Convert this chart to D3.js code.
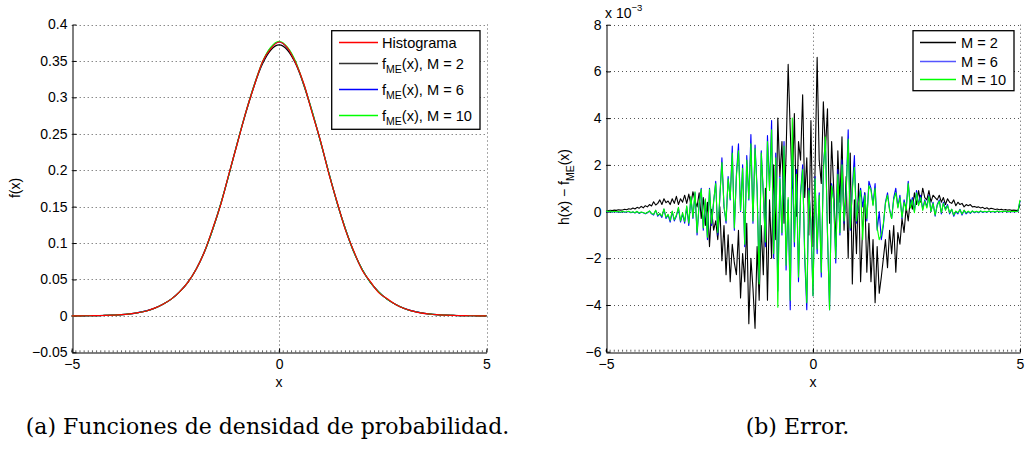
<!DOCTYPE html>
<html>
<head>
<meta charset="utf-8">
<script src="https://cdn.jsdelivr.net/npm/d3@7"></script>
<style>
  body { margin: 0; background: #fff; }
  svg { display: block; }
</style>
</head>
<body>
<script>
//
// Two MATLAB style panels: (a) densities, (b) error h(x) - f_ME(x)
//

// ---- data, panel (a) : x from -5 to 5, step 0.2
const densStep = 0.2;
const densHist = [0.0001,0.0001,0.0002,0.0003,0.0006,0.001,0.0016,0.0027,0.0044,0.0067,
  0.0106,0.016,0.023,0.033,0.046,0.064,0.088,0.120,0.154,0.197,
  0.238,0.280,0.316,0.349,0.367,0.376,0.368,0.347,0.318,0.278,
  0.240,0.195,0.156,0.118,0.089,0.063,0.047,0.032,0.024,0.016,
  0.0104,0.0069,0.0042,0.0028,0.0016,0.001,0.0006,0.0003,0.0002,0.0001,0.0001];
const densM2 = [0.0001,0.0001,0.0002,0.0004,0.0006,0.0011,0.0017,0.0028,0.0045,0.0069,
  0.0107,0.016,0.023,0.033,0.046,0.064,0.088,0.119,0.155,0.196,
  0.239,0.279,0.316,0.346,0.365,0.372,0.365,0.346,0.316,0.279,
  0.239,0.196,0.155,0.119,0.088,0.064,0.046,0.033,0.023,0.016,
  0.0107,0.0069,0.0045,0.0028,0.0017,0.0011,0.0006,0.0004,0.0002,0.0001,0.0001];
const densM6 = [0.0001,0.0001,0.0002,0.0003,0.0006,0.001,0.0016,0.0027,0.0044,0.0068,
  0.0105,0.016,0.023,0.033,0.046,0.064,0.088,0.119,0.155,0.196,
  0.239,0.280,0.317,0.348,0.368,0.376,0.368,0.348,0.317,0.280,
  0.239,0.196,0.155,0.119,0.088,0.064,0.046,0.033,0.023,0.016,
  0.0105,0.0068,0.0044,0.0027,0.0016,0.001,0.0006,0.0003,0.0002,0.0001,0.0001];
const densM10 = [0.0001,0.0001,0.0002,0.0003,0.0006,0.001,0.0016,0.0027,0.0043,0.0067,
  0.0105,0.016,0.023,0.033,0.046,0.064,0.088,0.119,0.155,0.196,
  0.239,0.280,0.317,0.349,0.369,0.377,0.369,0.349,0.317,0.280,
  0.239,0.196,0.155,0.119,0.088,0.064,0.046,0.033,0.023,0.016,
  0.0105,0.0067,0.0043,0.0027,0.0016,0.001,0.0006,0.0003,0.0002,0.0001,0.0001];

// ---- data, panel (b) : x from -5 to 5, step 0.05, values in units of 1e-3
const errStep = 0.05;
const errM2 = [
  0.02,0.03,0.05,0.04,0.06,0.05,0.08,0.06,0.07,0.10,
  0.08,0.12,0.10,0.15,0.11,0.18,0.14,0.22,0.16,0.25,
  0.20,0.30,0.24,0.42,0.28,0.35,0.50,0.30,0.55,0.38,
  0.45,0.30,0.55,0.35,0.65,0.30,0.55,0.40,0.70,0.35,
  0.75,0.30,0.85,0.45,0.20,0.80,-0.30,0.60,-0.60,0.40,
  -1.50,0.10,-0.80,-0.40,-1.20,0.20,-2.10,-0.60,-2.70,-1.00,
  -3.00,-1.40,-2.20,-2.70,-0.80,-3.70,-1.80,-3.00,-0.50,-4.80,
  -2.00,-3.30,-5.00,-1.50,-3.80,-0.60,-2.70,1.00,-3.80,0.50,
  -2.00,2.00,-1.20,4.00,1.50,3.00,-0.50,2.50,6.30,3.50,
  1.00,4.20,-0.20,3.00,2.20,5.00,0.60,2.30,-1.00,3.90,
  -1.50,1.80,6.60,2.20,1.20,4.70,2.60,4.40,-0.50,3.00,
  1.00,-1.50,2.60,0.40,3.20,-0.80,1.50,-2.00,2.50,-3.10,
  0.50,-1.80,1.20,-3.00,-0.60,0.80,-2.60,-0.50,-3.00,-1.20,
  -3.90,-1.50,-3.50,-2.80,-2.00,-1.20,-2.40,-0.80,-1.80,-0.60,
  -2.60,-0.90,-1.40,-0.30,-0.90,0.20,-0.40,0.50,0.10,0.80,
  0.30,0.90,0.40,1.00,0.60,0.50,0.90,0.40,0.70,0.60,
  0.50,0.70,0.40,0.60,0.30,0.55,0.40,0.35,0.50,0.25,
  0.40,0.30,0.35,0.20,0.30,0.25,0.30,0.20,0.22,0.18,
  0.20,0.15,0.18,0.12,0.16,0.10,0.14,0.12,0.09,0.11,
  0.08,0.10,0.07,0.09,0.06,0.08,0.05,0.06,0.05,0.04,
  0.30];
const errM6 = [
  0.00,-0.02,0.01,-0.03,0.00,-0.02,-0.01,-0.04,0.00,-0.03,
  -0.02,0.00,-0.05,-0.02,-0.06,0.00,-0.08,-0.03,-0.05,-0.10,
  -0.05,0.02,-0.10,-0.15,0.05,-0.20,-0.10,-0.25,0.10,-0.30,
  -0.15,-0.45,0.00,-0.40,-0.20,0.15,-0.45,-0.10,-0.50,0.20,
  -0.60,0.60,-0.30,0.80,-1.00,0.30,1.00,-0.80,0.50,-1.20,
  1.00,-0.60,0.40,1.30,-1.00,0.60,2.30,0.20,-0.50,1.50,
  0.50,2.80,-0.80,1.60,2.90,0.00,2.00,-1.50,2.40,0.50,
  3.30,-0.50,2.85,1.00,-3.00,2.60,0.80,-1.50,3.25,1.00,
  3.90,-2.00,2.50,-3.40,1.50,-1.00,3.00,-2.50,0.50,-4.20,
  2.50,-1.50,1.80,-3.00,0.80,2.00,-2.00,-4.20,1.00,-0.50,
  -3.60,1.50,-1.80,0.80,-2.80,1.90,3.10,-1.00,-4.20,1.20,
  0.50,-2.20,1.80,-1.00,2.20,-0.50,0.80,3.50,-0.80,1.00,
  2.40,-0.50,0.40,1.00,0.20,0.80,-0.40,1.30,1.00,0.30,
  1.20,-0.80,0.00,-1.20,-0.60,0.40,0.80,0.10,-0.30,0.60,
  1.00,0.20,0.70,-0.30,0.50,0.10,1.30,0.20,0.60,0.00,
  0.90,0.30,0.70,0.10,0.50,0.20,0.70,0.00,0.40,-0.20,
  0.30,0.50,-0.10,0.40,0.10,0.30,-0.10,0.10,-0.20,0.00,
  -0.10,0.10,-0.15,0.05,-0.10,0.00,-0.08,0.02,-0.05,0.00,
  -0.05,0.02,-0.04,0.00,-0.03,0.01,-0.02,0.00,-0.03,0.01,
  -0.02,0.00,-0.01,0.01,-0.02,0.00,-0.01,0.00,-0.01,0.00,
  0.45];
const errM10 = [
  0.02,-0.01,0.02,-0.02,0.01,-0.01,0.00,-0.03,0.01,-0.02,
  -0.01,0.01,-0.04,-0.01,-0.05,0.01,-0.06,-0.02,-0.04,-0.08,
  -0.04,0.03,-0.08,-0.12,0.06,-0.16,-0.08,-0.20,0.12,-0.25,
  -0.12,-0.38,0.02,-0.35,-0.15,0.18,-0.40,-0.05,-0.42,0.25,
  -0.50,0.65,-0.25,0.85,-0.90,0.35,0.95,-0.70,0.55,-1.10,
  0.95,-0.50,0.45,1.20,-0.90,0.65,2.10,0.25,-0.40,1.40,
  0.55,2.50,-0.70,1.50,2.60,0.05,1.85,-1.40,2.20,0.55,
  2.90,-0.40,2.70,0.90,-3.10,2.50,0.75,-1.30,3.00,0.90,
  3.50,-1.80,2.30,-4.10,1.40,-0.90,2.80,-2.30,0.60,-3.80,
  4.00,-1.30,1.60,-2.80,0.70,1.80,-1.80,-3.90,0.90,-0.40,
  -3.60,1.40,-1.60,0.70,-2.60,1.70,3.20,-0.90,-4.20,1.10,
  0.45,-2.00,1.60,-0.90,2.00,-0.40,0.70,3.10,-0.70,0.90,
  1.90,-0.40,0.35,0.90,-1.20,0.70,-0.30,1.10,0.90,0.25,
  1.00,-0.70,-1.20,-1.00,-0.50,0.35,0.70,0.05,-0.30,0.50,
  0.80,0.15,0.60,-0.25,0.40,0.05,1.20,0.15,0.50,-0.05,
  0.80,0.25,0.60,0.05,0.45,0.15,0.65,0.00,0.35,-0.15,
  0.25,0.45,-0.05,0.35,0.05,0.25,-0.05,0.10,-0.15,0.02,
  -0.05,0.08,-0.10,0.06,-0.06,0.02,-0.05,0.03,-0.03,0.01,
  -0.03,0.03,-0.02,0.01,-0.02,0.02,-0.01,0.01,-0.02,0.02,
  -0.01,0.01,0.00,0.02,-0.01,0.01,0.00,0.01,0.00,0.01,
  0.50];

// ---- ticks and labels
const xTicks = [-5, 0, 5];
const densYTicks = [-0.05, 0, 0.05, 0.1, 0.15, 0.2, 0.25, 0.3, 0.35, 0.4];
const errYTicks = [-6, -4, -2, 0, 2, 4, 6, 8];
const densNames = ['Histograma', 'M = 2', 'M = 6', 'M = 10'];
const errNames = ['M = 2', 'M = 6', 'M = 10'];
const captions = ['(a) Funciones de densidad de probabilidad.', '(b) Error.'];

const FONT = '"Liberation Sans", Arial, Helvetica, sans-serif';
const FS = 14;
const minus = s => String(s).replace('-', '\u2212');

const svg = d3.select('body').append('svg')
  .attr('width', 1027)
  .attr('height', 452)
  .attr('font-family', FONT)
  .attr('font-size', FS);

// Draw grid + left/bottom axes of one panel, return scales
const panel = ({left, right, top, bottom, xDomain, yDomain, yTicks, fmt}) => {
  const x = d3.scaleLinear(xDomain, [left, right]);
  const y = d3.scaleLinear(yDomain, [bottom, top]);
  const g = svg.append('g');

  // dotted grid (top and right edges are grid lines too, box is off)
  const grid = g.append('g')
    .attr('stroke', '#555')
    .attr('stroke-width', 1)
    .attr('stroke-dasharray', '1,3');
  grid.selectAll('.gy')
    .data(yTicks.filter(d => d !== yDomain[0]))
    .join('line')
    .attr('x1', left).attr('x2', right)
    .attr('y1', d => Math.round(y(d)) + 0.5).attr('y2', d => Math.round(y(d)) + 0.5);
  grid.selectAll('.gx')
    .data(xTicks.filter(d => d !== xDomain[0]))
    .join('line')
    .attr('y1', top).attr('y2', bottom)
    .attr('x1', d => Math.round(x(d)) + 0.5).attr('x2', d => Math.round(x(d)) + 0.5);

  // minor ticks on the x axis
  g.append('g')
    .attr('stroke', '#666')
    .selectAll('line')
    .data(d3.range(xDomain[0], xDomain[1] + 1e-9, 0.1))
    .join('line')
    .attr('x1', d => x(d)).attr('x2', d => x(d))
    .attr('y1', bottom).attr('y2', bottom - 2);

  const ax = g.append('g')
    .attr('transform', `translate(0,${Math.round(bottom) + 0.5})`)
    .call(d3.axisBottom(x).tickValues(xTicks).tickSizeInner(-4).tickSizeOuter(0)
      .tickPadding(7).tickFormat(minus));
  const ay = g.append('g')
    .attr('transform', `translate(${Math.round(left) + 0.5},0)`)
    .call(d3.axisLeft(y).tickValues(yTicks).tickSizeInner(-4).tickSizeOuter(0)
      .tickPadding(5).tickFormat(d => minus(fmt(d))));
  [ax, ay].forEach(a => {
    a.attr('font-family', FONT).attr('font-size', FS);
    a.selectAll('text').attr('fill', '#000');
    a.selectAll('line,path').attr('stroke', '#000');
  });

  g.append('text')
    .attr('x', (left + right) / 2)
    .attr('y', bottom + 35)
    .attr('text-anchor', 'middle')
    .text('x');

  return {x, y};
};

// Legend box with line samples; label(sel, d) fills each text
const legend = ({x0, y0, w, h, rows, colors, names, lineX, textX, label}) => {
  const g = svg.append('g').attr('font-size', 14.6);
  g.append('rect')
    .attr('x', x0).attr('y', y0).attr('width', w).attr('height', h)
    .attr('fill', '#fff').attr('stroke', '#000').attr('stroke-width', 1.3);
  names.forEach((n, i) => {
    g.append('line')
      .attr('x1', lineX[0]).attr('x2', lineX[1])
      .attr('y1', rows[i]).attr('y2', rows[i])
      .attr('stroke', colors[i]).attr('stroke-width', 1.3);
    label(g.append('text').attr('x', textX).attr('y', rows[i] + 5), n);
  });
};

// ---------------- panel (a)
{
  const {x, y} = panel({
    left: 71.7, right: 486.5, top: 24.5, bottom: 352.3,
    xDomain: [-5, 5], yDomain: [-0.05, 0.4], yTicks: densYTicks,
    fmt: d => String(+d.toFixed(2))
  });
  const line = d3.line()
    .x((d, i) => x(-5 + i * densStep))
    .y(d => y(d))
    .curve(d3.curveMonotoneX);
  const series = [[densM2, '#000'], [densM6, '#0000ff'], [densM10, '#00ff00'], [densHist, '#ff0000']];
  svg.append('g')
    .attr('fill', 'none')
    .attr('stroke-width', 1.2)
    .selectAll('path')
    .data(series)
    .join('path')
    .attr('stroke', d => d[1])
    .attr('d', d => line(d[0]));

  svg.append('text')
    .attr('transform', 'translate(20,188) rotate(-90)')
    .attr('text-anchor', 'middle')
    .text('f(x)');

  legend({
    x0: 331.7, y0: 30.7, w: 148.3, h: 98.6,
    rows: [42.5, 63.5, 89.5, 115.5],
    colors: ['#ff0000', '#333', '#0000ff', '#00ff00'],
    names: densNames, lineX: [339, 378], textX: 382,
    label: (t, n) => {
      if (n === 'Histograma') { t.text(n); return; }
      t.append('tspan').text('f');
      t.append('tspan').attr('font-size', 10.5).attr('dy', 4.5).text('ME');
      t.append('tspan').attr('dy', -4.5).text(`(x), ${n}`);
    }
  });
}

// ---------------- panel (b)
{
  const {x, y} = panel({
    left: 606, right: 1020, top: 24.7, bottom: 351.7,
    xDomain: [-5, 5], yDomain: [-6, 8], yTicks: errYTicks,
    fmt: d => String(d)
  });
  const line = d3.line()
    .x((d, i) => x(-5 + i * errStep))
    .y(d => y(d));
  const series = [[errM2, '#000'], [errM6, '#0000ff'], [errM10, '#00ff00']];
  svg.append('g')
    .attr('fill', 'none')
    .attr('stroke-width', 1.1)
    .attr('stroke-linejoin', 'round')
    .selectAll('path')
    .data(series)
    .join('path')
    .attr('stroke', d => d[1])
    .attr('d', d => line(d[0]));

  // exponent label
  const ex = svg.append('text').attr('x', 605).attr('y', 18);
  ex.append('tspan').text('x 10');
  ex.append('tspan').attr('font-size', 9.5).attr('dy', -7).text('\u22123');

  const yl = svg.append('text')
    .attr('transform', 'translate(569,187) rotate(-90)')
    .attr('text-anchor', 'middle');
  yl.append('tspan').text('h(x) \u2212 f');
  yl.append('tspan').attr('font-size', 10.5).attr('dy', 4.5).text('ME');
  yl.append('tspan').attr('dy', -4.5).text('(x)');

  legend({
    x0: 913, y0: 30.7, w: 101, h: 60,
    rows: [42.5, 61.5, 79.5],
    colors: ['#000', '#5555ff', '#00ff00'],
    names: errNames, lineX: [920, 956], textX: 961,
    label: (t, n) => t.text(n)
  });
}

// ---------------- captions
svg.append('g')
  .attr('font-family', '"DejaVu Serif", "Liberation Serif", serif')
  .attr('font-size', 22)
  .selectAll('text')
  .data(captions)
  .join('text')
  .attr('x', (d, i) => [267.5, 797.5][i])
  .attr('y', 434)
  .attr('text-anchor', 'middle')
  .text(d => d);
</script>
</body>
</html>
